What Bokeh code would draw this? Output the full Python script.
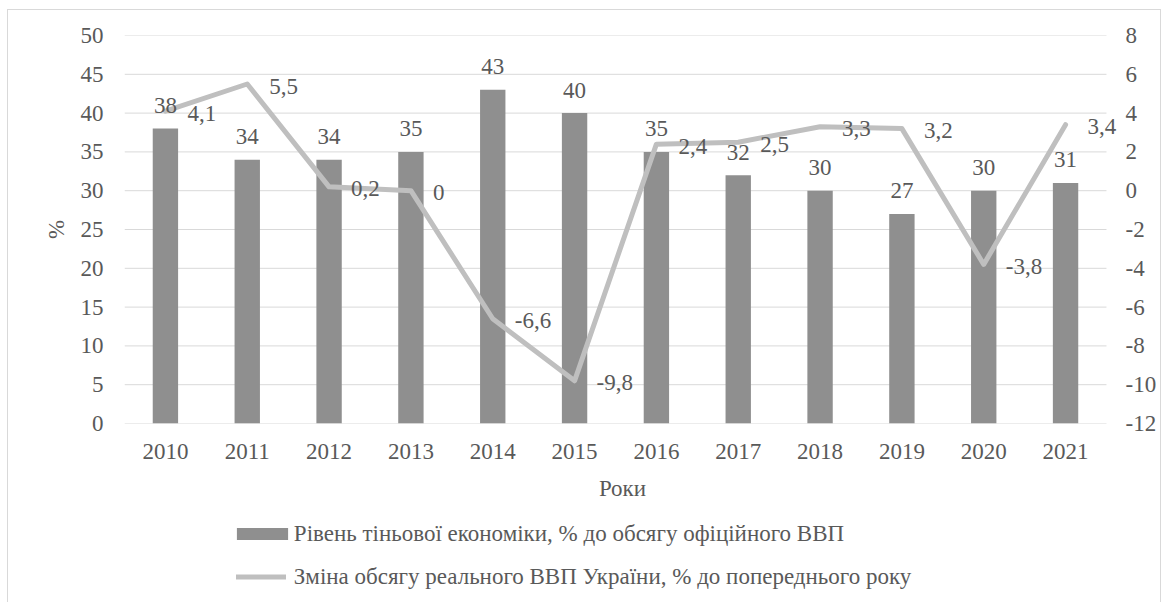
from bokeh.plotting import figure
from bokeh.layouts import column
from bokeh.models import (Range1d, LinearAxis, FixedTicker, Legend, LegendItem, ColumnDataSource,
                          PrintfTickFormatter)
from bokeh.core.properties import value
from bokeh.embed import file_html
from bokeh.resources import INLINE

years = ["2010", "2011", "2012", "2013", "2014", "2015", "2016", "2017", "2018", "2019", "2020", "2021"]
shadow = [38, 34, 34, 35, 43, 40, 35, 32, 30, 27, 30, 31]
gdp = [4.1, 5.5, 0.2, 0, -6.6, -9.8, 2.4, 2.5, 3.3, 3.2, -3.8, 3.4]
left_ticks = [0, 5, 10, 15, 20, 25, 30, 35, 40, 45, 50]
right_ticks = [-12, -10, -8, -6, -4, -2, 0, 2, 4, 6, 8]
bar_name = "Рівень тіньової економіки, % до обсягу офіційного ВВП"
line_name = "Зміна обсягу реального ВВП України, % до попереднього року"
x_title = "Роки"
y_title = "%"

FONT = "'Liberation Serif'"
TXT = "#595959"
BAR = "#8f8f8f"
LINE = "#bfbfbf"
GRID = "#d9d9d9"
FS = "23px"

def fmt(v):
    return f"{v:g}".replace(".", ",")

n = len(years)
idx = list(range(n))
src = ColumnDataSource(dict(
    xi=idx, shadow=shadow, gdp=gdp,
    shadow_lbl=[fmt(v) for v in shadow],
    gdp_lbl=[fmt(v) for v in gdp],
))

FRAME_W = 994
CAT_W = 980 / n
x_end = -0.5 + FRAME_W / CAT_W

# ---------------- main chart ----------------
p = figure(x_range=Range1d(-0.5, x_end), y_range=Range1d(0, 50), width=1154, height=501,
           output_backend="svg", toolbar_location=None,
           min_border_left=116, min_border_right=42, min_border_top=25, min_border_bottom=88)
p.styles = {"border-top": f"1px solid {GRID}", "border-left": f"1px solid {GRID}",
            "border-right": f"1px solid {GRID}", "box-sizing": "border-box",
            "position": "relative", "left": "7px", "top": "9px"}
p.outline_line_color = None
p.background_fill_color = "white"
p.border_fill_color = "white"
p.extra_y_ranges = {"r": Range1d(-12, 8)}

p.xgrid.grid_line_color = None
p.ygrid.grid_line_color = None
p.yaxis.ticker = FixedTicker(ticks=left_ticks)
p.xaxis.ticker = FixedTicker(ticks=idx)
p.xaxis.major_label_overrides = {i: y for i, y in zip(idx, years)}

raxis = LinearAxis(y_range_name="r", ticker=FixedTicker(ticks=right_ticks),
                   formatter=PrintfTickFormatter(format="%d"))
p.add_layout(raxis, "right")

for ax in [p.xaxis[0], p.yaxis[0], raxis]:
    ax.axis_line_color = None
    ax.major_tick_line_color = None
    ax.minor_tick_line_color = None
    ax.major_tick_out = 0
    ax.major_tick_in = 0
    ax.minor_tick_out = 0
    ax.minor_tick_in = 0
    ax.major_label_text_font = FONT
    ax.major_label_text_font_size = FS
    ax.major_label_text_color = TXT
    ax.axis_label_text_font = FONT
    ax.axis_label_text_font_size = FS
    ax.axis_label_text_color = TXT
    ax.axis_label_text_font_style = "normal"

p.yaxis[0].major_label_standoff = 21
raxis.major_label_standoff = 5
p.xaxis[0].major_label_standoff = 20
p.xaxis[0].axis_label = x_title
p.xaxis[0].axis_label_standoff = 14
p.yaxis[0].axis_label = y_title
p.yaxis[0].axis_label_standoff = 9

p.segment(x0=-0.5, x1=n - 0.5, y0=left_ticks, y1=left_ticks, line_color=GRID, line_width=1)

bars = p.vbar(x="xi", top="shadow", width=0.31, source=src, fill_color=BAR, line_color=None)
line = p.line(x="xi", y="gdp", source=src, y_range_name="r", line_color=LINE, line_width=5,
              line_join="round", line_cap="round")

p.text(x="xi", y="shadow", text="shadow_lbl", source=src, text_align="center",
       text_baseline="middle", y_offset=-23, text_font=value(FONT),
       text_font_size=FS, text_color=TXT)
p.text(x="xi", y="gdp", text="gdp_lbl", source=src, y_range_name="r", text_align="left",
       text_baseline="middle", x_offset=22, y_offset=2, text_font=value(FONT),
       text_font_size=FS, text_color=TXT)

# ---------------- legend strip ----------------
Q_H = 92
q = figure(width=1154, height=Q_H, x_range=Range1d(0, FRAME_W), y_range=Range1d(0, Q_H),
           output_backend="svg", toolbar_location=None,
           x_axis_location=None, y_axis_location=None, min_border=0)
q.styles = {"border-left": f"1px solid {GRID}", "border-right": f"1px solid {GRID}",
            "box-sizing": "border-box", "position": "relative", "left": "7px", "top": "9px"}
q.outline_line_color = None
q.grid.grid_line_color = None
q.background_fill_color = "white"
q.border_fill_color = "white"
lg_bar = q.vbar(x=[-50], top=[-40], bottom=[-50], width=1, fill_color=BAR, line_color=None)
lg_line = q.line(x=[-50, -40], y=[-50, -50], line_color=LINE, line_width=5, line_cap="round")

leg1 = Legend(items=[LegendItem(label=" ", renderers=[lg_bar])],
              location=(106, 56), orientation="vertical",
              glyph_width=64, glyph_height=15, label_height=26, label_standoff=0, label_width=1,
              padding=0, margin=0, border_line_color=None, background_fill_alpha=0,
              label_text_font_size="1px")
leg2 = Legend(items=[LegendItem(label=" ", renderers=[lg_line])],
              location=(112, 13), orientation="vertical",
              glyph_width=50, glyph_height=15, label_height=26, label_standoff=0, label_width=1,
              padding=0, margin=0, border_line_color=None, background_fill_alpha=0,
              label_text_font_size="1px")
q.add_layout(leg1, "center")
q.add_layout(leg2, "center")

leg_src1 = ColumnDataSource(dict(lx=[169], ly=[69], txt=[bar_name]))
leg_src2 = ColumnDataSource(dict(lx=[169], ly=[26], txt=[line_name]))
q.text(x="lx", y="ly", text="txt", source=leg_src1, text_align="left", text_baseline="middle",
       text_font=value("Times"), text_font_size=FS, text_color=TXT)
q.text(x="lx", y="ly", text="txt", source=leg_src2, text_align="left", text_baseline="middle",
       text_font=value("Liberation Serif"), text_font_size=FS, text_color=TXT)

layout = column(p, q, spacing=0)
open("out.html", "w").write(file_html(layout, INLINE))
